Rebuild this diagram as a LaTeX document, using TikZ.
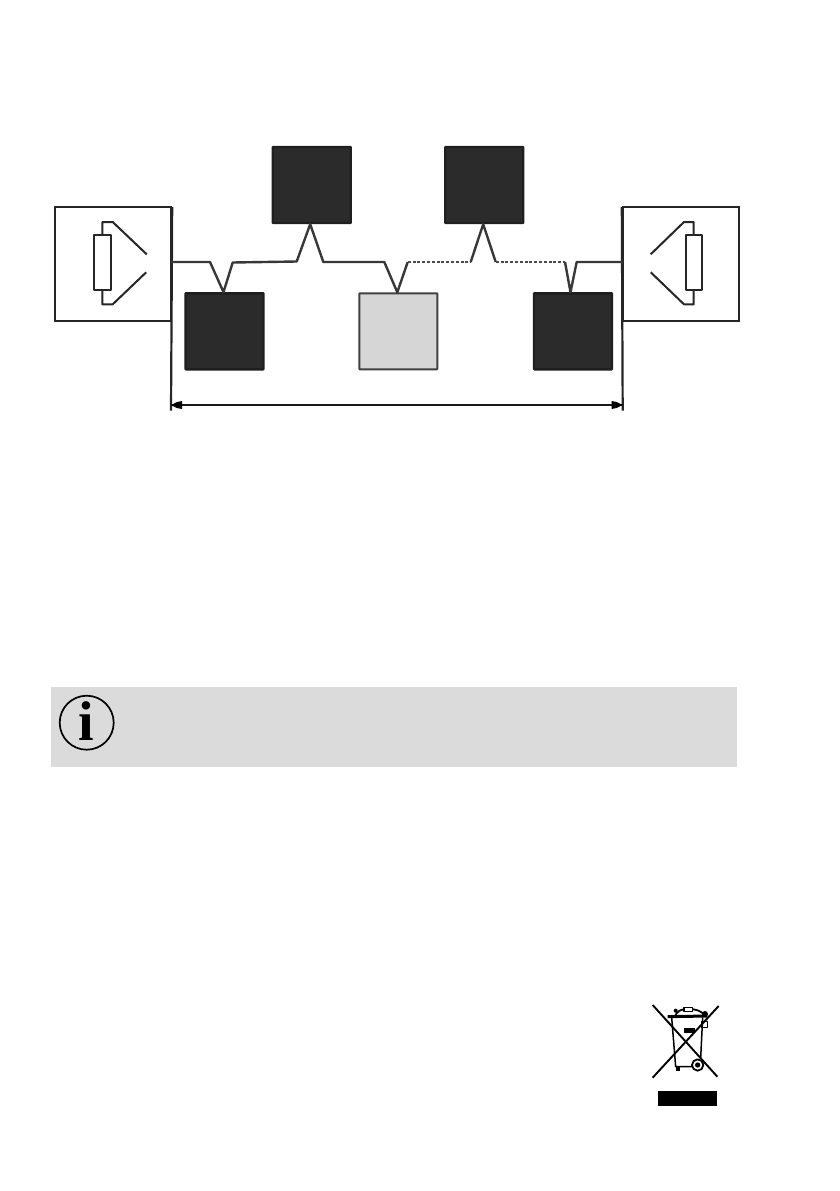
\documentclass[tikz,border=0pt]{standalone}
\usepackage{fontspec}
\setmainfont{Liberation Serif}
\tikzset{
  unit/.style={draw=black!88,line width=2.4pt,fill=black!83,minimum width=78pt,minimum height=76pt,inner sep=0pt,rounded corners=0.6pt},
  lightunit/.style={unit,draw=black!75,fill=black!16,line width=2pt},
  termbox/.style={draw=black!85,line width=1.9pt,fill=white,minimum width=116.5pt,minimum height=114.6pt,inner sep=0pt},
  wire/.style={draw=black!78,line width=2.4pt,line join=round},
  dotwire/.style={draw=black!70,line width=2.8pt,dash pattern=on 3pt off 1.8pt},
  sym/.style={draw=black!85,line width=2pt,line join=round},
  binline/.style={draw=black,line width=1.5pt,line join=round}
}
\begin{document}
\begin{tikzpicture}[x=1pt,y=-1pt]
\useasboundingbox (0,0) rectangle (839,1191);
% terminators
\node[termbox] (tl) at (113,264) {};
\node[termbox] (tr) at (681,264) {};
% line-length rules
\draw[line width=2.2pt,draw=black!85] ([yshift=-1pt]tl.north east) -- (171,410.7) coordinate (dl);
\draw[line width=2.2pt,draw=black!85] ([yshift=-1pt]tr.north west) -- (622.7,410.7) coordinate (dr);
\coordinate (al) at (171,405);
\coordinate (ar) at (622.7,405);
\draw[line width=1.9pt,draw=black!90] (al) -- (ar);
\fill[black] (al) -- (177,402) -- (182,401) -- (182,409) -- (177,408) -- cycle;
\fill[black] (ar) -- (616.7,402) -- (611.7,401) -- (611.7,409) -- (616.7,408) -- cycle;
% units
\node[unit] (u1) at (311.7,185) {};
\node[unit] (u2) at (484.2,185) {};
\node[unit] (u3) at (224.5,331.3) {};
\node[lightunit] (u4) at (398.3,331.3) {};
\node[unit] (u5) at (573,331.3) {};
% bus
\coordinate (ls) at (171,262);
\coordinate (rs) at (622.7,262);
\draw[wire] (ls) -- (210,262) -- ([xshift=-1pt]u3.north) -- (232.7,262.5) -- (296.7,261.5) -- ([xshift=-1.5pt]u1.south) -- (323.3,262) -- (384.3,262) -- ([xshift=-1pt]u4.north) -- (407.7,262);
\draw[dotwire] (407.7,262) -- (470.7,262);
\draw[wire] (470.7,262) -- ([xshift=-1pt]u2.south) -- (495.7,262);
\draw[dotwire] (495.7,262) -- (565,262);
\draw[wire] (565,262) -- ([xshift=-2.5pt]u5.north) -- (576.7,262) -- (rs);
% left speaker symbol
\draw[sym,fill=white] (94.3,234.7) rectangle (110.7,290);
\draw[sym] (102.3,234.7) -- (102.3,222) -- (112.7,222) -- (146.7,254.3);
\draw[sym] (102.3,290) -- (102.3,304.3) -- (112.7,304.3) -- (146.2,272.3);
% right speaker symbol
\draw[sym,fill=white] (685.7,234.7) rectangle (702,290);
\draw[sym] (693.7,234.7) -- (693.7,222) -- (684,222) -- (650.7,254.3);
\draw[sym] (693.7,290) -- (693.7,304.3) -- (684,304.3) -- (650.7,272.3);
% info box
\node[fill=black!14,minimum width=686pt,minimum height=80pt,inner sep=0pt] (info) at (394,727) {};
\node[circle,draw=black,line width=1.7pt,minimum size=54pt,inner sep=0pt] (ic) at (86.7,722.7) {};
\node[inner sep=0pt,font=\fontsize{56}{56}\selectfont\bfseries] (ii) at (86.7,721.5) {i};
% WEEE symbol
\begin{scope}[shift={(630,990)},x=0.3333pt,y=-0.3333pt]
\draw[binline] (125,82) -- (137,230) -- (187,230);
\draw[binline] (218,82) -- (212,205);
\draw[line width=3pt,draw=black] (113,80) -- (232,78);
\draw[binline,line width=1.8pt] (135,78) .. controls (142,64) and (152,58) .. (165,58) -- (190,58) .. controls (205,60) and (215,66) .. (225,75);
\draw[binline,fill=white] (162,52) rectangle (188,64);
\fill[black] (225,72) circle (9);
\fill[black] (137,62) circle (6);
\fill[black] (162,113) rectangle (195,128);
\draw[binline,line width=0.6pt] (213,95) rectangle (232,112);
\draw[binline,line width=1.8pt,fill=white] (203,225) circle (17);
\fill[black] (203,225) circle (8);
\fill[black] (137,228) rectangle (150,243);
\draw[line width=1.9pt,draw=black] (68,45) -- (262,260);
\draw[line width=1.9pt,draw=black] (266,48) -- (68,263);
\fill[black] (83,303) rectangle (262,347);
\end{scope}
\end{tikzpicture}
\end{document}
